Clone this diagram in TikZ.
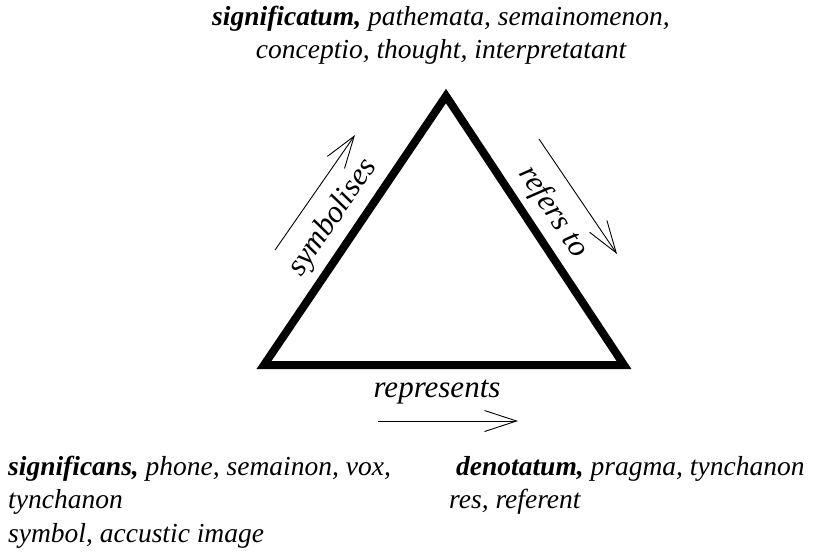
\documentclass[tikz,border=0pt]{standalone}
\usepackage{fontspec}
\setmainfont{Liberation Serif}
\usetikzlibrary{arrows.meta}
\begin{document}
\begin{tikzpicture}[x=1pt,y=-1pt,
  txt/.style={font=\fontsize{27.5}{33}\selectfont\itshape, inner sep=0pt},
  lbl/.style={font=\fontsize{31}{36}\selectfont\itshape, inner sep=0pt},
  tri/.style={line width=8pt, line join=miter},
  flow/.style={line width=0.9pt, -{Straight Barb[length=32pt,width=21pt,line width=0.9pt]}}]
\useasboundingbox (0,0) rectangle (817,555);
% triangle
\coordinate (L) at (264,365);
\coordinate (R) at (624,365);
\coordinate (T) at (446,96);
\draw[tri] (L) -- (T) -- (R) -- cycle;
% top text
\node[txt, anchor=base] (top1) at (441,25) {\textbf{significatum,} pathemata, semainomenon,};
\node[txt, anchor=base] (top2) at (441,58) {conceptio, thought, interpretatant};
% bottom-left text
\node[txt, anchor=base west] (bl1) at (8,475) {\textbf{significans,} phone, semainon, vox,};
\node[txt, anchor=base west] (bl2) at (8,508) {tynchanon};
\node[txt, anchor=base west] (bl3) at (8,542) {symbol, accustic image};
% bottom-right text
\node[txt, anchor=base west] (br1) at (456,475) {\textbf{denotatum,} pragma, tynchanon};
\node[txt, anchor=base west] (br2) at (449,508) {res, referent};
% side labels
\node[lbl, rotate=55.8] (sym) at (333,218) {symbolises};
\node[lbl, rotate=-56.4] (ref) at (553,212) {refers to};
\node[lbl, anchor=base] (rep) at (437,397) {represents};
% arrows
\coordinate (s1) at (275,250);
\coordinate (s2) at (355,135);
\coordinate (r1) at (539,139);
\coordinate (r2) at (617,254);
\coordinate (p1) at (378,421);
\coordinate (p2) at (518,421);
\draw[flow] (s1) -- (s2);
\draw[flow] (r1) -- (r2);
\draw[flow] (p1) -- (p2);
\end{tikzpicture}
\end{document}
